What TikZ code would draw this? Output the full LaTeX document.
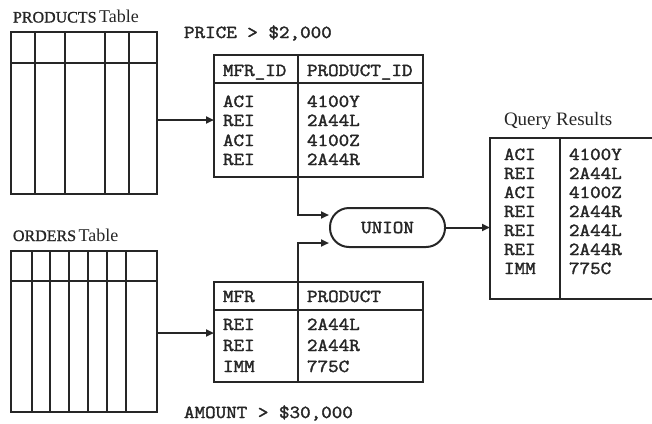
\documentclass[tikz,border=0pt]{standalone}
\usepackage{fontspec}
\setmainfont{Liberation Serif}
\setmonofont{Latin Modern Mono}[FakeStretch=1.12,FakeBold=2]
\newfontfamily\labelcaps{Liberation Serif}[FakeBold=1]
\usetikzlibrary{arrows.meta}
\definecolor{ink}{HTML}{262626}
\newcommand\monotext{\ttfamily\fontsize{18.3}{18.3}\selectfont}
\newcommand\captext{\labelcaps\fontsize{16}{16}\selectfont}
\newcommand\titletext{\fontsize{18}{18}\selectfont}
\begin{document}
\begin{tikzpicture}[x=1pt,y=-1pt,line width=2pt,
  tbl/.style={draw=ink,rectangle,inner sep=0pt,outer sep=0pt},
  cell/.style={anchor=base west,inner sep=0pt,font=\monotext,text=ink},
  lbl/.style={anchor=base west,inner sep=0pt,text=ink},
  arr/.style={draw=ink,-{Triangle[length=8pt,width=7pt]}},
  grid/.style={draw=ink}]
\useasboundingbox (0,0) rectangle (652,423);

% ---- source tables ----
\node[lbl] (plabel) at (12,22.5) {{\captext PRODUCTS} {\titletext Table}};
\node[tbl,minimum width=146pt,minimum height=162pt] (products) at (84,113) {};
\draw[grid] (11,63) -- (157,63);
\foreach \x in {35,65,105,129} \draw[grid] (\x,32) -- (\x,194);

\node[lbl] (olabel) at (12,241) {{\captext ORDERS} {\titletext Table}};
\node[tbl,minimum width=146pt,minimum height=161pt] (orders) at (84,331.5) {};
\draw[grid] (11,281) -- (157,281);
\foreach \x in {32,50,69,88,107,126} \draw[grid] (\x,251) -- (\x,412);

% ---- filtered tables ----
\node[cell] (pcond) at (183,38) {PRICE > \$2,000};
\node[tbl,minimum width=209pt,minimum height=122pt] (ptab) at (318.5,116) {};
\draw[grid] (214,83) -- (423,83);
\draw[grid] (298,55) -- (298,177);
\node[cell] (ph1) at (222,76) {MFR\_ID};
\node[cell] (ph2) at (306,76) {PRODUCT\_ID};
\foreach \y/\a/\b [count=\i] in {107/ACI/4100Y,126/REI/2A44L,146/ACI/4100Z,165/REI/2A44R}{
  \node[cell] (pa\i) at (222,\y) {\a};
  \node[cell] (pb\i) at (306,\y) {\b};
}

\node[tbl,minimum width=209pt,minimum height=100pt] (otab) at (318.5,332) {};
\draw[grid] (214,310) -- (423,310);
\draw[grid] (298,282) -- (298,382);
\node[cell] (oh1) at (222,302) {MFR};
\node[cell] (oh2) at (306,302) {PRODUCT};
\foreach \y/\a/\b [count=\i] in {330/REI/2A44L,351/REI/2A44R,372/IMM/775C}{
  \node[cell] (oa\i) at (222,\y) {\a};
  \node[cell] (ob\i) at (306,\y) {\b};
}
\node[cell] (ocond) at (183,418) {AMOUNT > \$30,000};

% ---- union operator ----
\node[draw=ink,rounded corners=19pt,minimum width=115pt,minimum height=39pt,
      inner sep=0pt,font=\monotext,text=ink] (union) at (387.5,227.5) {UNION};

% ---- result table (runs off the right edge) ----
\node[lbl] (rlabel) at (503,125) {\fontsize{19}{19}\selectfont Query Results};
\begin{scope}
  \clip (0,0) rectangle (652,423);
  \node[tbl,minimum width=210pt,minimum height=161pt] (results) at (595,218.5) {};
  \draw[grid] (560,138) -- (560,299);
\end{scope}
\foreach \y/\a/\b [count=\i] in {160/ACI/4100Y,179/REI/2A44L,198/ACI/4100Z,217/REI/2A44R,236/REI/2A44L,255/REI/2A44R,274/IMM/775C}{
  \node[cell] (ra\i) at (503,\y) {\a};
  \node[cell] (rb\i) at (568,\y) {\b};
}

% ---- connectors ----
\coordinate (pin) at (0,120);
\coordinate (oin) at (0,333);
\coordinate (pcol) at (298,0);
\coordinate (u1) at (329,215);
\coordinate (u2) at (329,243);
\draw[arr] (products.east |- pin) -- (ptab.west |- pin);
\draw[arr] (orders.east |- oin) -- (otab.west |- oin);
\draw[arr] (ptab.south -| pcol) |- (u1);
\draw[arr] (otab.north -| pcol) |- (u2);
\draw[arr] (union.east) -- (results.west |- union.east);
\end{tikzpicture}
\end{document}
